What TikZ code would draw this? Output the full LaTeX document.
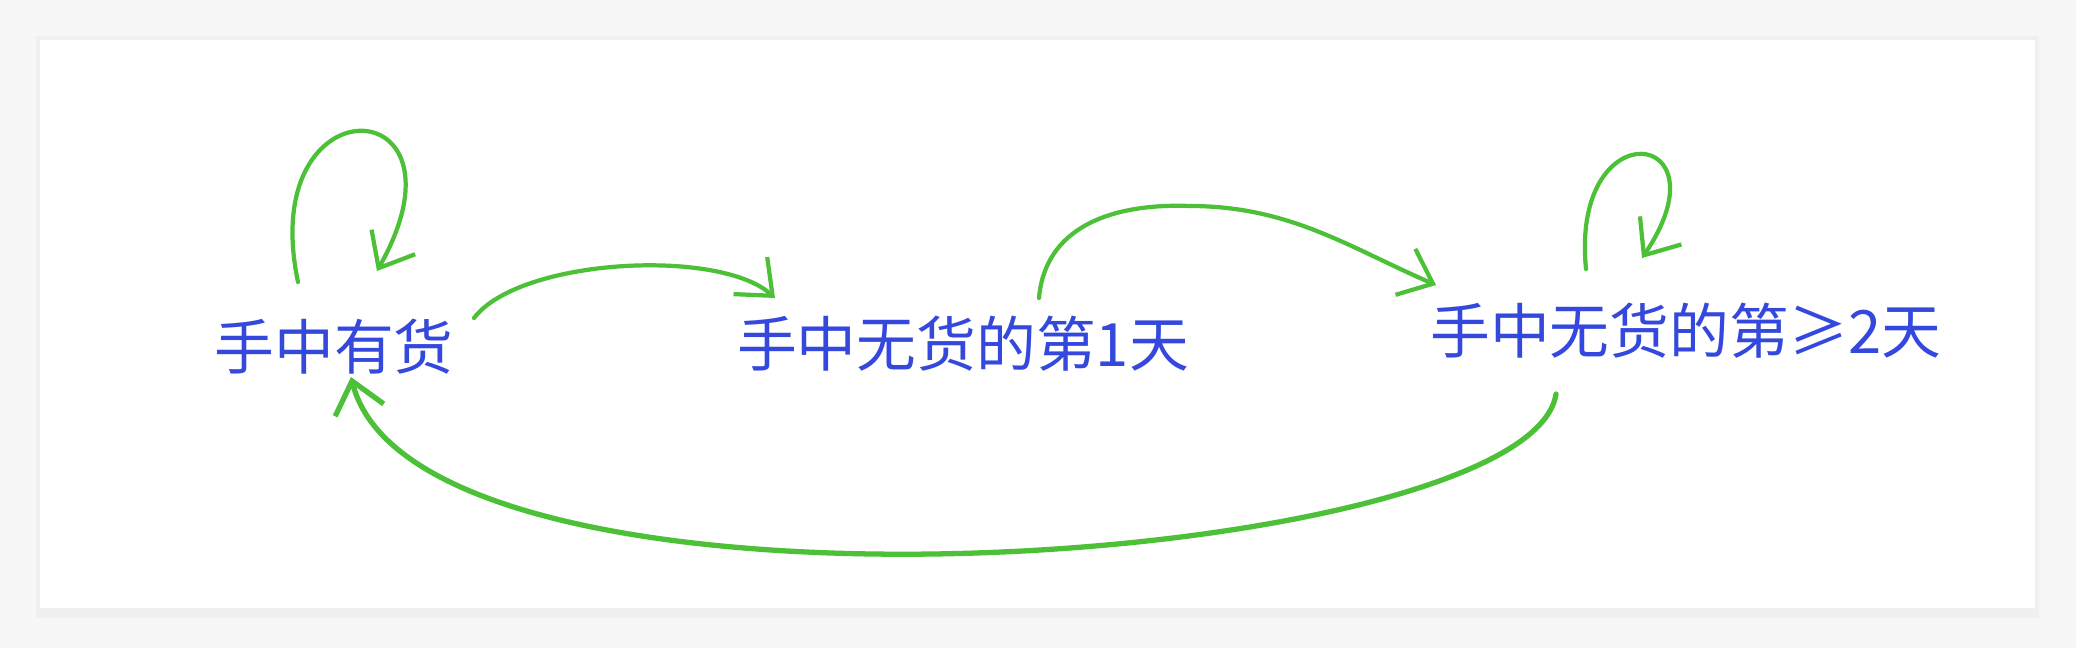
\documentclass[tikz,border=0pt]{standalone}
\usepackage{fontspec}
\newfontfamily\cjk{Noto Sans CJK SC}
\usetikzlibrary{arrows.meta}
\definecolor{inkblue}{RGB}{52,72,222}
\definecolor{inkgreen}{RGB}{76,192,54}

\begin{document}
\begin{tikzpicture}[
  x=0.01cm,
  y=0.01cm,
  font=\cjk\fontsize{17}{20}\selectfont,
  state/.style={text=inkblue, inner sep=2pt},
  flow/.style={draw=inkgreen, line width=1.2pt, line cap=round,
    -{Straight Barb[length=0.3cm,width=0.5cm]}}
]

% Page background and card
\useasboundingbox (0,0) rectangle (2076,648);
\fill[black!3] (0,0) rectangle (2076,648);
\fill[black!6] (36,30) rectangle (2039,612);
\fill[white] (40,40) rectangle (2035,608);

% States
\node[state] (hold) at (334,301) {手中有货};
\node[state] (day1) at (963,304) {手中无货的第1天};
\node[state] (day2) at (1686,317) {手中无货的第≥2天};

% Self loops
\draw[flow] ([shift={(-36,65)}]hold.center)
  .. controls (255,570) and (480,560) .. ([shift={(43,76)}]hold.center);
\draw[flow] ([shift={(-100,62)}]day2.center)
  .. controls (1570,540) and (1730,520) .. ([shift={(-44,73)}]day2.center);

% Transitions
\draw[flow] ([shift={(140,29)}]hold.center)
  .. controls (520,390) and (720,400) .. ([shift={(-188,46)}]day1.center);
\draw[flow] ([shift={(76,46)}]day1.center)
  .. controls (1045,420) and (1110,445) .. (1190,442)
  .. controls (1290,442) and (1350,400) .. ([shift={(-250,46)}]day2.center);
\draw[flow, line width=1.5pt] ([shift={(-130,-63)}]day2.center)
  .. controls (1530,80) and (420,0) .. ([shift={(17,-30)}]hold.center);

\end{tikzpicture}
\end{document}
